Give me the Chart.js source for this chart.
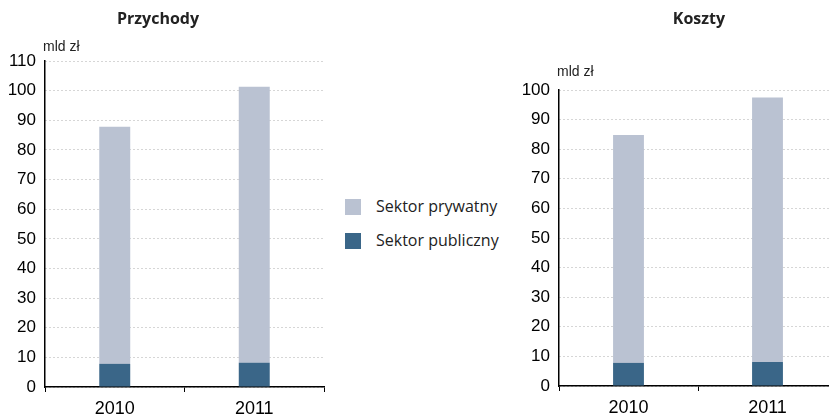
<!DOCTYPE html>
<html lang="pl">
<head>
<meta charset="utf-8">
<script src="https://cdn.jsdelivr.net/npm/chart.js@4/dist/chart.umd.min.js"></script>
<style>
  html, body { margin: 0; padding: 0; background: #fff; }
  body { width: 829px; height: 419px; overflow: hidden; position: relative; }
  #wrapLeft { position: absolute; left: 0; top: 0; width: 335px; height: 419px; }
  #wrapRight { position: absolute; left: 515px; top: 0; width: 322px; height: 419px; }
  .legend { position: absolute; left: 345px; font-family: "Open Sans", sans-serif; font-size: 16px; color: #222; }
  .legend .box { position: absolute; left: 0; width: 16px; height: 16px; }
  .legend .txt { position: absolute; left: 31px; top: -1px; white-space: nowrap; line-height: 16px; }
</style>
</head>
<body>
<div id="wrapLeft"><canvas id="przychodyChart"></canvas></div>
<div id="wrapRight"><canvas id="kosztyChart"></canvas></div>
<div class="legend" style="top:199px"><div class="box" style="background:#bac2d2"></div><div class="txt">Sektor prywatny</div></div>
<div class="legend" style="top:233px"><div class="box" style="background:#3a6688"></div><div class="txt">Sektor publiczny</div></div>
<script>
// data (mld zł)
const years = ['2010', '2011'];
const przychodyPubliczny = [7.8, 8.2];
const przychodyPrywatny = [80.0, 93.1];
const kosztyPubliczny = [7.8, 8.1];
const kosztyPrywatny = [77.0, 89.4];

const colPrywatny = '#bac2d2';
const colPubliczny = '#3a6688';

// draws chart title and unit label at fixed spots
const textPlugin = {
  id: 'extraText',
  afterDraw(chart, args, opts) {
    const ctx = chart.ctx;
    ctx.save();
    ctx.fillStyle = '#222';
    ctx.textBaseline = 'middle';
    ctx.textAlign = 'center';
    ctx.font = 'bold 16px "Open Sans", sans-serif';
    ctx.fillText(opts.title, opts.titleX, opts.titleY);
    ctx.textAlign = 'left';
    ctx.font = '14px "Liberation Sans", Arial, sans-serif';
    ctx.fillText('mld zł', opts.unitX, opts.unitY);
    ctx.restore();
  }
};

function makeChart(id, publ, pryw, yMax, pad, yW, xH, text) {
  return new Chart(document.getElementById(id), {
    type: 'bar',
    data: {
      labels: years,
      datasets: [
        { label: 'Sektor publiczny', data: publ, backgroundColor: colPubliczny },
        { label: 'Sektor prywatny', data: pryw, backgroundColor: colPrywatny }
      ]
    },
    options: {
      responsive: true,
      maintainAspectRatio: false,
      animation: false,
      layout: { padding: pad },
      datasets: { bar: { categoryPercentage: 1, barPercentage: 0.222 } },
      plugins: {
        legend: { display: false },
        tooltip: { enabled: false },
        extraText: text
      },
      scales: {
        x: {
          stacked: true,
          afterFit: s => { s.height = xH; },
          grid: { drawOnChartArea: false, drawTicks: true, tickLength: 5, color: '#000', offset: true },
          border: { display: true, color: '#000', width: 1.5 },
          ticks: { color: '#000', padding: 6, font: { family: '"Liberation Sans", Arial', size: 18 } }
        },
        y: {
          stacked: true,
          min: 0,
          max: yMax,
          afterFit: s => { s.width = yW; },
          grid: { drawTicks: false, color: '#adadad', lineWidth: 1 },
          border: { display: true, color: '#000', width: 1.5, dash: [1, 3] },
          ticks: { stepSize: 10, color: '#000', padding: 9, font: { family: '"Liberation Sans", Arial', size: 17 } }
        }
      }
    },
    plugins: [textPlugin]
  });
}

makeChart('przychodyChart', przychodyPubliczny, przychodyPrywatny, 110,
  { top: 61, right: 11, bottom: 0, left: 0 }, 45, 32,
  { title: 'Przychody', titleX: 158, titleY: 19, unitX: 43, unitY: 47 });

makeChart('kosztyChart', kosztyPubliczny, kosztyPrywatny, 100,
  { top: 90, right: 0, bottom: 0, left: 0 }, 44, 33,
  { title: 'Koszty', titleX: 184, titleY: 19, unitX: 42, unitY: 72 });
</script>
</body>
</html>
